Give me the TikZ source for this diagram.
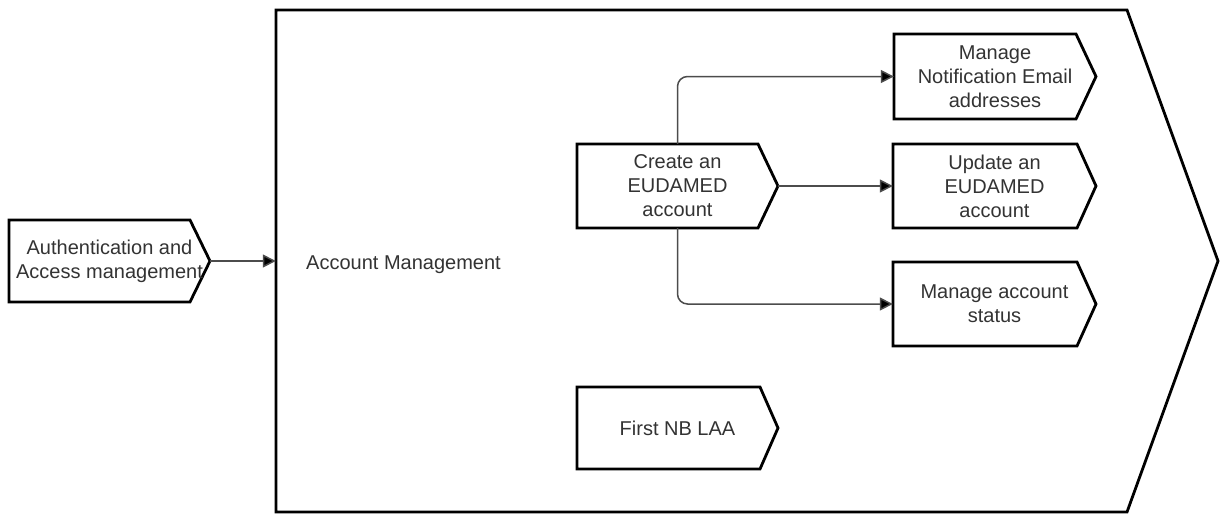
\documentclass[tikz,border=0pt]{standalone}
\usepackage{fontspec}
\setmainfont{Liberation Sans}
\usetikzlibrary{arrows.meta}
\tikzset{
  shapeline/.style={draw=black, line width=2.8pt, line join=miter, fill=white},
  txt/.style={inner sep=0pt, align=center, text=black!80, font=\fontsize{20}{24}\selectfont},
  conn/.style={draw=black!70, line width=1.5pt, -{Triangle[length=13pt,width=13pt,fill=black]}},
}
% name, left x, top y, corner x, tip x, bottom y, text
\newcommand\procbox[7]{%
  \draw[shapeline] (#2,#3) -- (#4,#3) -- (#5,{(#3+#6)/2}) -- (#4,#6) -- (#2,#6) -- cycle;
  \node[txt, minimum width={(#5-#2)*1pt}, minimum height={(#6-#3)*1pt}] (#1) at ({(#2+#5)/2},{(#3+#6)/2}) {#7};
}
\begin{document}
\begin{tikzpicture}[x=1pt,y=-1pt]
\useasboundingbox (0,0) rectangle (1220,515);
% big container
\procbox{am}{276}{10}{1127}{1218}{512}{}
\node[txt, anchor=west] (amlabel) at (306,265) {Account Management};
% boxes
\procbox{auth}{9}{220}{190}{210}{302}{Authentication and\\Access management}
\procbox{create}{577}{144}{758}{778}{228}{Create an\\EUDAMED\\account}
\procbox{notif}{894}{34}{1076}{1096}{119}{Manage\\Notification Email\\addresses}
\procbox{update}{893}{144}{1077}{1096}{228}{Update an\\EUDAMED\\account}
\procbox{status}{893}{262}{1077}{1096}{346}{Manage account\\status}
\procbox{first}{577}{387}{760}{778}{469}{First NB LAA}
% connectors
\draw[conn] (auth.east) -- (am.west);
\draw[conn, rounded corners=10pt] (create.north) |- (notif.west);
\draw[conn] (create.east) -- (update.west);
\draw[conn, rounded corners=10pt] (create.south) |- (status.west);
\end{tikzpicture}
\end{document}
